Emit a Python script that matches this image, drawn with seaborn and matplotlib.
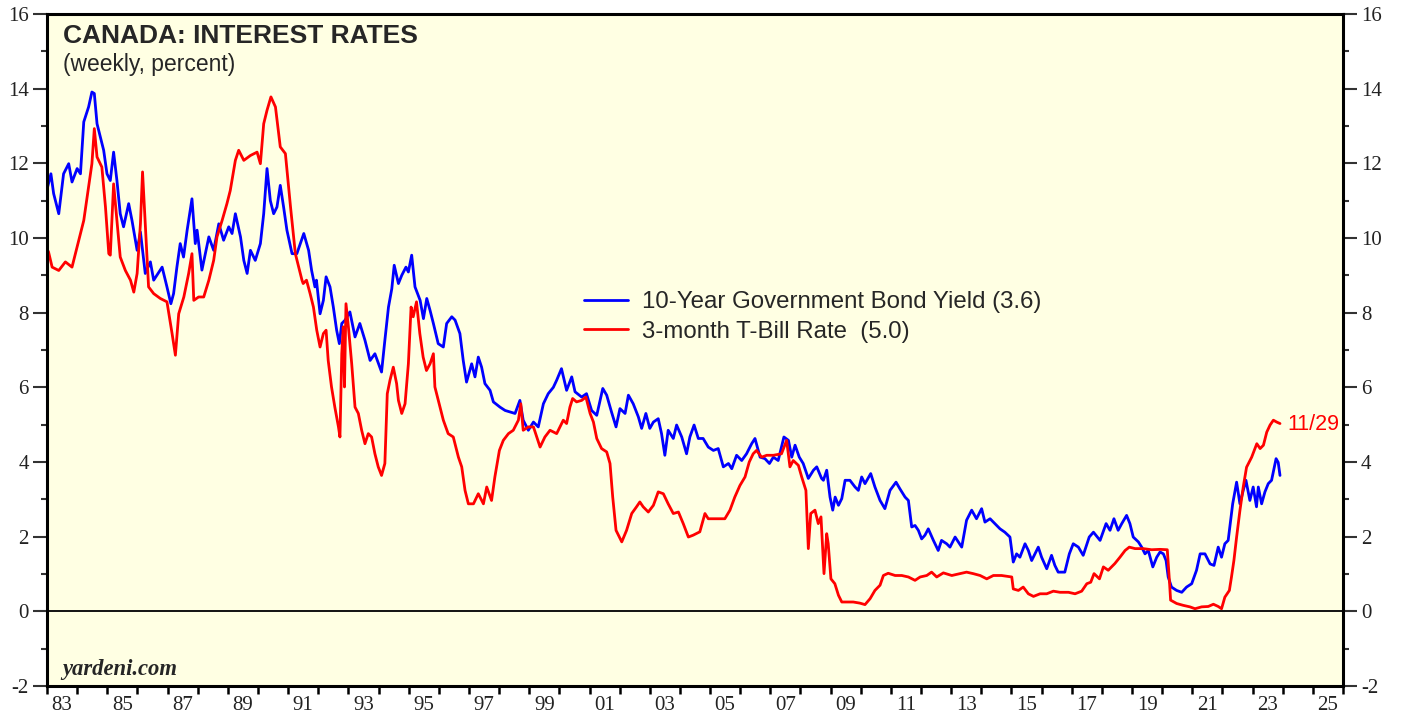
import numpy as np
import pandas as pd
import matplotlib
matplotlib.use("Agg")
import matplotlib.pyplot as plt
from matplotlib.ticker import MultipleLocator, FixedLocator, FixedFormatter
import seaborn as sns


# ////////////////// DATA (decimal years)

bond_years = [
    1983.0, 1983.13, 1983.22, 1983.39, 1983.55, 1983.72, 1983.83, 1984.0, 1984.11, 1984.22,
    1984.38, 1984.49, 1984.57, 1984.66, 1984.77, 1984.88, 1984.99, 1985.1, 1985.21, 1985.32,
    1985.43, 1985.54, 1985.71, 1985.82, 1985.99, 1986.1, 1986.26, 1986.43, 1986.54, 1986.82,
    1986.98, 1987.11, 1987.2, 1987.31, 1987.42, 1987.53, 1987.65, 1987.81, 1987.92, 1987.98,
    1988.14, 1988.37, 1988.53, 1988.7, 1988.86, 1989.03, 1989.14, 1989.25, 1989.42, 1989.53,
    1989.64, 1989.75, 1989.91, 1990.08, 1990.19, 1990.3, 1990.41, 1990.52, 1990.63, 1990.74,
    1990.85, 1990.96, 1991.13, 1991.29, 1991.52, 1991.68, 1991.78, 1991.89, 1991.94, 1992.06,
    1992.17, 1992.26, 1992.39, 1992.5, 1992.61, 1992.7, 1992.78, 1992.89, 1993.05, 1993.22,
    1993.38, 1993.55, 1993.72, 1993.88, 1994.1, 1994.21, 1994.33, 1994.44, 1994.52, 1994.66,
    1994.77, 1994.91, 1994.99, 1995.1, 1995.21, 1995.38, 1995.49, 1995.6, 1995.71, 1995.82,
    1995.98, 1996.15, 1996.26, 1996.43, 1996.54, 1996.7, 1996.81, 1996.92, 1997.09, 1997.2,
    1997.31, 1997.42, 1997.53, 1997.7, 1997.81, 1998.03, 1998.2, 1998.36, 1998.53, 1998.69,
    1998.8, 1998.97, 1999.14, 1999.3, 1999.47, 1999.63, 1999.8, 1999.91, 2000.07, 2000.24,
    2000.41, 2000.52, 2000.74, 2000.9, 2001.07, 2001.24, 2001.44, 2001.57, 2001.73, 2001.88,
    2002.01, 2002.18, 2002.29, 2002.45, 2002.62, 2002.73, 2002.87, 2003.0, 2003.12, 2003.28,
    2003.39, 2003.5, 2003.61, 2003.78, 2003.89, 2004.06, 2004.22, 2004.33, 2004.47, 2004.61,
    2004.77, 2004.94, 2005.11, 2005.27, 2005.44, 2005.61, 2005.72, 2005.88, 2006.05, 2006.21,
    2006.38, 2006.49, 2006.66, 2006.82, 2006.97, 2007.1, 2007.26, 2007.45, 2007.6, 2007.71,
    2007.82, 2007.96, 2008.09, 2008.26, 2008.43, 2008.54, 2008.7, 2008.76, 2008.87, 2008.98,
    2009.07, 2009.15, 2009.26, 2009.37, 2009.48, 2009.64, 2009.81, 2009.92, 2010.03, 2010.14,
    2010.33, 2010.47, 2010.64, 2010.8, 2010.97, 2011.17, 2011.3, 2011.47, 2011.58, 2011.69,
    2011.8, 2011.91, 2012.02, 2012.13, 2012.24, 2012.41, 2012.57, 2012.68, 2012.85, 2012.96,
    2013.13, 2013.35, 2013.51, 2013.68, 2013.84, 2014.01, 2014.12, 2014.29, 2014.45, 2014.62,
    2014.78, 2014.95, 2015.06, 2015.17, 2015.28, 2015.45, 2015.56, 2015.67, 2015.89, 2016.0,
    2016.17, 2016.33, 2016.44, 2016.55, 2016.77, 2016.92, 2017.05, 2017.22, 2017.38, 2017.58,
    2017.72, 2017.94, 2018.14, 2018.27, 2018.4, 2018.54, 2018.66, 2018.82, 2018.93, 2019.04,
    2019.21, 2019.32, 2019.43, 2019.54, 2019.69, 2019.82, 2019.93, 2020.04, 2020.13, 2020.2,
    2020.31, 2020.48, 2020.65, 2020.81, 2020.98, 2021.14, 2021.26, 2021.42, 2021.59, 2021.72,
    2021.86, 2021.97, 2022.08, 2022.19, 2022.34, 2022.47, 2022.58, 2022.69, 2022.78, 2022.91,
    2023.02, 2023.13, 2023.19, 2023.3, 2023.41, 2023.52, 2023.63, 2023.78, 2023.85, 2023.91,
]
bond_yield = [
    11.3, 11.72, 11.19, 10.65, 11.72, 11.99, 11.5, 11.86, 11.72, 13.11,
    13.51, 13.91, 13.87, 13.06, 12.71, 12.35, 11.72, 11.54, 12.3, 11.54,
    10.65, 10.3, 10.92, 10.47, 9.67, 10.16, 9.05, 9.36, 8.87, 9.22,
    8.69, 8.24, 8.51, 9.22, 9.85, 9.49, 10.21, 11.05, 9.85, 10.21,
    9.14, 10.03, 9.67, 10.38, 9.94, 10.3, 10.12, 10.65, 10.03, 9.4,
    9.05, 9.67, 9.4, 9.85, 10.65, 11.86, 11.0, 10.65, 10.83, 11.41,
    10.83, 10.21, 9.58, 9.58, 10.12, 9.67, 9.13, 8.69, 8.87, 7.97,
    8.33, 8.96, 8.69, 8.15, 7.53, 7.17, 7.71, 7.8, 8.02, 7.35,
    7.71, 7.26, 6.72, 6.9, 6.41, 7.26, 8.15, 8.64, 9.27, 8.78,
    9.0, 9.22, 9.09, 9.54, 8.69, 8.33, 7.84, 8.38, 8.06, 7.71,
    7.17, 7.08, 7.71, 7.89, 7.8, 7.44, 6.72, 6.14, 6.63, 6.28,
    6.81, 6.54, 6.1, 5.92, 5.61, 5.47, 5.38, 5.34, 5.3, 5.65,
    5.12, 4.85, 5.07, 4.94, 5.56, 5.83, 6.0, 6.19, 6.5, 5.92,
    6.28, 5.88, 5.74, 5.83, 5.38, 5.25, 5.97, 5.79, 5.34, 4.94,
    5.43, 5.3, 5.79, 5.56, 5.21, 4.9, 5.3, 4.9, 5.07, 5.16,
    4.76, 4.18, 4.85, 4.63, 4.99, 4.67, 4.22, 4.67, 4.99, 4.63,
    4.63, 4.4, 4.31, 4.36, 3.87, 3.96, 3.82, 4.18, 4.04, 4.22,
    4.49, 4.63, 4.13, 4.09, 3.96, 4.13, 4.04, 4.67, 4.58, 4.13,
    4.45, 4.13, 3.96, 3.56, 3.78, 3.87, 3.56, 3.51, 3.78, 3.06,
    2.71, 3.06, 2.84, 3.02, 3.51, 3.51, 3.33, 3.24, 3.6, 3.42,
    3.69, 3.33, 2.97, 2.75, 3.24, 3.46, 3.28, 3.06, 2.97, 2.26,
    2.3, 2.17, 1.94, 2.04, 2.21, 1.9, 1.63, 1.9, 1.81, 1.72,
    1.99, 1.72, 2.44, 2.71, 2.48, 2.75, 2.39, 2.48, 2.35, 2.21,
    2.12, 1.99, 1.32, 1.54, 1.45, 1.81, 1.63, 1.36, 1.72, 1.45,
    1.14, 1.5, 1.23, 1.05, 1.05, 1.54, 1.81, 1.72, 1.5, 1.99,
    2.12, 1.9, 2.35, 2.17, 2.48, 2.17, 2.35, 2.57, 2.35, 1.99,
    1.86, 1.72, 1.54, 1.63, 1.19, 1.45, 1.59, 1.54, 1.36, 0.92,
    0.65, 0.56, 0.51, 0.65, 0.74, 1.1, 1.54, 1.54, 1.27, 1.23,
    1.72, 1.45, 1.81, 1.9, 2.88, 3.46, 2.88, 3.24, 3.51, 2.97,
    3.33, 2.8, 3.33, 2.88, 3.2, 3.42, 3.51, 4.09, 3.99, 3.64,
]

tbill_years = [
    1983.0, 1983.05, 1983.17, 1983.39, 1983.61, 1983.83, 1984.0, 1984.22, 1984.38, 1984.49,
    1984.57, 1984.66, 1984.82, 1984.94, 1985.05, 1985.1, 1985.21, 1985.32, 1985.43, 1985.6,
    1985.77, 1985.88, 1985.99, 1986.1, 1986.17, 1986.26, 1986.37, 1986.54, 1986.76, 1986.98,
    1987.15, 1987.26, 1987.37, 1987.54, 1987.7, 1987.81, 1987.87, 1988.03, 1988.2, 1988.37,
    1988.53, 1988.64, 1988.81, 1988.97, 1989.08, 1989.25, 1989.36, 1989.53, 1989.75, 1989.97,
    1990.08, 1990.19, 1990.3, 1990.43, 1990.58, 1990.74, 1990.91, 1991.08, 1991.24, 1991.46,
    1991.5, 1991.61, 1991.73, 1991.84, 1991.95, 1992.06, 1992.17, 1992.26, 1992.33, 1992.44,
    1992.55, 1992.67, 1992.72, 1992.78, 1992.83, 1992.87, 1992.92, 1993.0, 1993.11, 1993.22,
    1993.33, 1993.44, 1993.55, 1993.66, 1993.77, 1993.88, 1993.99, 1994.1, 1994.21, 1994.29,
    1994.38, 1994.49, 1994.6, 1994.66, 1994.77, 1994.88, 1994.99, 1995.08, 1995.15, 1995.26,
    1995.37, 1995.48, 1995.59, 1995.71, 1995.82, 1995.87, 1996.04, 1996.15, 1996.31, 1996.48,
    1996.65, 1996.76, 1996.87, 1996.98, 1997.15, 1997.31, 1997.48, 1997.59, 1997.75, 1997.86,
    1998.01, 1998.14, 1998.31, 1998.47, 1998.64, 1998.72, 1998.8, 1998.97, 1999.14, 1999.36,
    1999.52, 1999.69, 1999.91, 2000.02, 2000.13, 2000.24, 2000.35, 2000.44, 2000.57, 2000.74,
    2000.88, 2001.02, 2001.13, 2001.24, 2001.4, 2001.57, 2001.68, 2001.77, 2001.88, 2002.07,
    2002.23, 2002.4, 2002.56, 2002.67, 2002.78, 2002.95, 2003.12, 2003.28, 2003.45, 2003.61,
    2003.78, 2003.95, 2004.11, 2004.28, 2004.44, 2004.66, 2004.83, 2004.94, 2005.16, 2005.33,
    2005.49, 2005.66, 2005.82, 2005.99, 2006.16, 2006.3, 2006.43, 2006.54, 2006.71, 2006.88,
    2007.1, 2007.37, 2007.54, 2007.65, 2007.76, 2007.93, 2008.04, 2008.18, 2008.26, 2008.34,
    2008.48, 2008.59, 2008.68, 2008.78, 2008.87, 2008.92, 2009.01, 2009.14, 2009.26, 2009.37,
    2009.53, 2009.75, 2009.97, 2010.14, 2010.31, 2010.47, 2010.64, 2010.75, 2010.91, 2011.14,
    2011.36, 2011.58, 2011.8, 2011.97, 2012.19, 2012.35, 2012.52, 2012.74, 2013.02, 2013.29,
    2013.51, 2013.73, 2013.96, 2014.18, 2014.4, 2014.67, 2015.01, 2015.06, 2015.23, 2015.39,
    2015.56, 2015.73, 2015.95, 2016.17, 2016.39, 2016.61, 2016.89, 2017.11, 2017.33, 2017.5,
    2017.63, 2017.74, 2017.92, 2018.05, 2018.21, 2018.43, 2018.6, 2018.77, 2018.91, 2019.1,
    2019.37, 2019.65, 2019.93, 2020.17, 2020.24, 2020.28, 2020.48, 2020.7, 2020.92, 2021.09,
    2021.31, 2021.53, 2021.7, 2021.86, 2021.97, 2022.08, 2022.23, 2022.3, 2022.38, 2022.47,
    2022.58, 2022.69, 2022.8, 2022.97, 2023.14, 2023.25, 2023.36, 2023.47, 2023.58, 2023.69,
    2023.8, 2023.91,
]
tbill_rate = [
    9.7, 9.63, 9.22, 9.13, 9.36, 9.22, 9.76, 10.47, 11.36, 11.99,
    12.93, 12.17, 11.9, 10.83, 9.58, 9.54, 11.45, 10.47, 9.49, 9.13,
    8.87, 8.55, 9.05, 10.38, 11.77, 10.38, 8.69, 8.51, 8.38, 8.29,
    7.44, 6.86, 7.97, 8.42, 9.05, 9.58, 8.33, 8.42, 8.42, 8.87,
    9.4, 10.03, 10.47, 10.92, 11.27, 12.08, 12.35, 12.08, 12.21, 12.3,
    11.99, 13.06, 13.42, 13.78, 13.51, 12.44, 12.26, 10.83, 9.58, 8.87,
    8.78, 8.87, 8.51, 8.15, 7.53, 7.08, 7.44, 7.53, 6.72, 6.01,
    5.47, 4.94, 4.67, 6.9, 7.62, 6.01, 8.24, 7.62, 6.63, 5.47,
    5.3, 4.85, 4.49, 4.76, 4.67, 4.22, 3.87, 3.64, 3.96, 5.83,
    6.19, 6.54, 6.1, 5.65, 5.3, 5.56, 6.63, 8.15, 7.89, 8.29,
    7.44, 6.81, 6.45, 6.63, 6.9, 6.01, 5.47, 5.12, 4.76, 4.67,
    4.13, 3.87, 3.24, 2.88, 2.88, 3.15, 2.88, 3.33, 2.97, 3.6,
    4.31, 4.58, 4.76, 4.85, 5.12, 5.56, 4.85, 4.94, 4.94, 4.4,
    4.67, 4.85, 4.76, 4.94, 5.12, 5.03, 5.47, 5.7, 5.61, 5.65,
    5.74, 5.3, 5.07, 4.63, 4.36, 4.27, 3.96, 3.06, 2.17, 1.86,
    2.17, 2.62, 2.8, 2.93, 2.8, 2.66, 2.84, 3.2, 3.15, 2.88,
    2.62, 2.66, 2.35, 1.99, 2.04, 2.13, 2.62, 2.48, 2.48, 2.48,
    2.48, 2.71, 3.06, 3.37, 3.6, 4.0, 4.22, 4.31, 4.13, 4.18,
    4.18, 4.22, 4.58, 3.87, 4.04, 3.91, 3.6, 3.24, 1.68, 2.62,
    2.71, 2.35, 2.53, 1.01, 2.08, 1.81, 0.87, 0.74, 0.43, 0.25,
    0.25, 0.25, 0.22, 0.18, 0.34, 0.56, 0.7, 0.96, 1.02, 0.96,
    0.96, 0.92, 0.83, 0.92, 0.96, 1.05, 0.92, 1.03, 0.96, 1.01,
    1.05, 1.01, 0.96, 0.87, 0.96, 0.96, 0.92, 0.6, 0.56, 0.65,
    0.47, 0.4, 0.47, 0.47, 0.54, 0.51, 0.51, 0.47, 0.54, 0.74,
    0.78, 1.01, 0.87, 1.19, 1.1, 1.28, 1.45, 1.63, 1.72, 1.68,
    1.68, 1.65, 1.66, 1.65, 0.83, 0.3, 0.21, 0.16, 0.12, 0.07,
    0.12, 0.13, 0.19, 0.13, 0.07, 0.38, 0.56, 0.92, 1.36, 1.99,
    2.7, 3.33, 3.86, 4.13, 4.49, 4.36, 4.45, 4.8, 4.99, 5.12,
    5.07, 5.03,
]

bond_label = "10-Year Government Bond Yield (3.6)"
tbill_label = "3-month T-Bill Rate  (5.0)"
label_years = list(range(1983, 2026, 2))
tick_text = [str(y)[-2:] for y in label_years]

bond = pd.DataFrame({"year": bond_years, "rate": bond_yield})
tbill = pd.DataFrame({"year": tbill_years, "rate": tbill_rate})


# ////////////////// PLOT

sns.set_style("ticks")
plt.rcParams["font.family"] = ["Liberation Sans", "DejaVu Sans"]
plt.rcParams["axes.unicode_minus"] = False

fig = plt.figure(figsize=(14.03, 7.19), dpi=100)
ax = fig.add_axes([47/1403, 1-686/719, 1296/1403, 672/719])
ax.set_facecolor("#FFFFE3")

sns.lineplot(data=bond, x="year", y="rate", ax=ax, color="#0000FF", lw=2.0, label=bond_label)
sns.lineplot(data=tbill, x="year", y="rate", ax=ax, color="#FF0000", lw=2.0, label=tbill_label)

ax.axhline(0, color="black", lw=1.3, zorder=1)

ax.set_xlim(1983, 2026)
ax.set_ylim(-2, 16)
ax.set_xlabel("")
ax.set_ylabel("")

# y ticks both sides
ax.yaxis.set_major_locator(MultipleLocator(2))
ax.yaxis.set_minor_locator(MultipleLocator(1))
ax.tick_params(axis="y", which="both", left=True, right=True, labelleft=True, labelright=True,
               direction="out", width=1.5, color="#333333")
ax.tick_params(axis="y", which="major", length=10, pad=3, labelsize=15)
ax.tick_params(axis="y", which="minor", length=4.5)
for lab in ax.get_yticklabels():
    lab.set_family(["Liberation Serif", "DejaVu Serif"])
    lab.set_color("#222222")

# x ticks at year boundaries, labels at mid-year
ax.xaxis.set_major_locator(FixedLocator(np.arange(1983, 2027)))
ax.xaxis.set_minor_locator(FixedLocator([y + 0.5 for y in label_years]))
ax.xaxis.set_major_formatter(FixedFormatter([""] * 44))
ax.xaxis.set_minor_formatter(FixedFormatter(tick_text))
ax.tick_params(axis="x", which="major", length=5.5, width=1.8, direction="out", color="black")
ax.tick_params(axis="x", which="minor", length=0, pad=7, labelsize=15)
for lab in ax.get_xticklabels(minor=True):
    lab.set_family(["Liberation Serif", "DejaVu Serif"])
    lab.set_color("#222222")

for s in ax.spines.values():
    s.set_linewidth(2.2)
    s.set_color("black")

# texts
ax.text(0.0125, 0.985, "CANADA: INTEREST RATES", transform=ax.transAxes,
        fontsize=19, fontweight="bold", va="top", ha="left")
ax.text(0.0125, 0.942, "(weekly, percent)", transform=ax.transAxes,
        fontsize=16.5, va="top", ha="left")
ax.text(2024.15, 5.0, "11/29", color="#FF0000", fontsize=15.5, va="center", ha="left")
ax.text(0.0115, 0.017, "yardeni.com", transform=ax.transAxes, fontsize=16.3,
        fontweight="bold", style="italic", family=["Liberation Serif", "DejaVu Serif"],
        va="baseline", ha="left")

ax.legend(loc="upper left", bbox_to_anchor=(0.405, 0.605), frameon=False, fontsize=17.3,
          handlelength=1.85, handletextpad=0.55, labelspacing=0.3, borderpad=0)

plt.savefig("out.png", dpi=100)
